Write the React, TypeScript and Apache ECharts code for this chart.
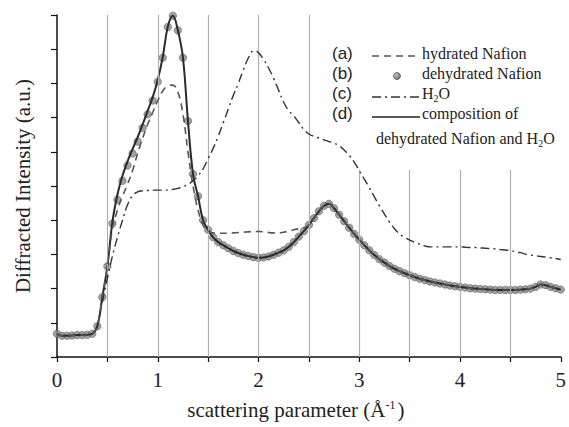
import React, { useEffect, useRef } from "react";
import * as echarts from "echarts";

// sampling grid of scattering parameter (Å^-1), every 0.05
const X: number[] = Array.from({ length: 101 }, (_, i) => Math.round(i * 5) / 100);

// (b) dehydrated Nafion (markers)
const dehydrated: number[] = [
  0.68, 0.62, 0.62, 0.63, 0.64, 0.64, 0.65, 0.68, 0.9, 1.75,
  2.65, 3.9, 4.6, 5.15, 5.6, 5.95, 6.3, 6.7, 7.1, 7.5,
  8.05, 8.75, 9.65, 9.98, 9.55, 8.75, 6.9, 5.35, 4.7, 4.0,
  3.72, 3.5, 3.36, 3.27, 3.18, 3.1, 3.04, 2.99, 2.95, 2.92,
  2.9, 2.91, 2.94, 2.99, 3.05, 3.12, 3.22, 3.36, 3.52, 3.68,
  3.86, 4.06, 4.26, 4.42, 4.48, 4.35, 4.16, 3.97, 3.78, 3.6,
  3.43, 3.27, 3.12, 2.98, 2.86, 2.76, 2.66, 2.58, 2.51, 2.45,
  2.39, 2.34, 2.29, 2.25, 2.21, 2.18, 2.15, 2.12, 2.09, 2.07,
  2.05, 2.03, 2.01, 2.0, 1.99, 1.98, 1.97, 1.96, 1.96, 1.96,
  1.96, 1.96, 1.97, 1.98, 2.0, 2.05, 2.12, 2.1, 2.05, 2.01,
  1.97,
];

// (d) composition of dehydrated Nafion and H2O (solid line)
const composition: number[] = [
  0.68, 0.62, 0.62, 0.63, 0.64, 0.64, 0.65, 0.68, 0.9, 1.75,
  2.65, 3.95, 4.75, 5.3, 5.72, 6.08, 6.42, 6.8, 7.2, 7.6,
  8.1, 8.78, 9.66, 9.98, 9.55, 8.75, 6.9, 5.35, 4.7, 4.0,
  3.72, 3.5, 3.36, 3.27, 3.18, 3.1, 3.04, 2.99, 2.95, 2.92,
  2.9, 2.91, 2.94, 2.99, 3.05, 3.12, 3.22, 3.36, 3.52, 3.68,
  3.86, 4.06, 4.26, 4.42, 4.48, 4.35, 4.16, 3.97, 3.78, 3.6,
  3.43, 3.27, 3.12, 2.98, 2.86, 2.76, 2.66, 2.58, 2.51, 2.45,
  2.39, 2.34, 2.29, 2.25, 2.21, 2.18, 2.15, 2.12, 2.09, 2.07,
  2.05, 2.03, 2.01, 2.0, 1.99, 1.98, 1.97, 1.96, 1.96, 1.96,
  1.96, 1.96, 1.97, 1.98, 2.0, 2.05, 2.12, 2.1, 2.05, 2.01,
  1.97,
];

// (a) hydrated Nafion (dashed)
const hydrated: number[] = [
  0.68, 0.62, 0.62, 0.63, 0.64, 0.64, 0.65, 0.68, 0.9, 1.75,
  2.65, 3.75, 4.3, 4.7, 5.05, 5.45, 5.95, 6.4, 6.8, 7.15,
  7.5, 7.78, 7.93, 7.95, 7.75, 7.1, 6.0, 5.0, 4.3, 3.85,
  3.68, 3.63, 3.62, 3.62, 3.62, 3.63, 3.64, 3.65, 3.66, 3.67,
  3.67, 3.66, 3.64, 3.63, 3.63, 3.65, 3.68, 3.72, 3.75, 3.78,
  3.86, 4.06, 4.26, 4.42, 4.48, 4.35, 4.16, 3.97, 3.78, 3.6,
  3.43, 3.27, 3.12, 2.98, 2.86, 2.76, 2.66, 2.58, 2.51, 2.45,
  2.39, 2.34, 2.29, 2.25, 2.21, 2.18, 2.15, 2.12, 2.09, 2.07,
  2.05, 2.03, 2.01, 2.0, 1.99, 1.98, 1.97, 1.96, 1.96, 1.96,
  1.96, 1.96, 1.97, 1.98, 2.0, 2.05, 2.12, 2.1, 2.05, 2.01,
  1.97,
];

// (c) H2O (dash-dot), starts at 0.45
const water: (number | null)[] = [
  null, null, null, null, null, null, null, null, null, 1.6,
  2.3, 2.95, 3.5, 4.0, 4.45, 4.72, 4.83, 4.86, 4.87, 4.88,
  4.88, 4.88, 4.88, 4.9, 4.93, 4.98, 5.05, 5.15, 5.3, 5.5,
  5.8, 6.1, 6.45, 6.85, 7.25, 7.65, 8.0, 8.4, 8.75, 8.95,
  8.9, 8.7, 8.45, 8.15, 7.8, 7.45, 7.2, 7.05, 6.85, 6.65,
  6.52, 6.45, 6.4, 6.35, 6.3, 6.25, 6.18, 6.05, 5.9, 5.7,
  5.45, 5.2, 4.95, 4.68, 4.42, 4.18, 3.95, 3.75, 3.6, 3.5,
  3.42, 3.35, 3.3, 3.25, 3.22, 3.22, 3.22, 3.22, 3.22, 3.22,
  3.22, 3.21, 3.2, 3.2, 3.19, 3.18, 3.17, 3.16, 3.14, 3.13,
  3.11, 3.08, 3.05, 3.01, 2.98, 2.96, 2.94, 2.92, 2.9, 2.88,
  2.85,
];

// vertical grid lines and the value where each one stops (legend area is clear)
const gridX: number[] = [0.5, 1, 1.5, 2, 2.5, 3, 3.5, 4, 4.5];
const gridTop: number[] = [10, 10, 10, 10, 10, 5.47, 5.47, 5.47, 5.47];

const xTickLabels: string[] = ["0", "1", "2", "3", "4", "5"];

const SERIF = "'Liberation Serif', 'DejaVu Serif', serif";
const SANS = "'Liberation Sans', Arial, sans-serif";

const pair = (ys: (number | null)[]) => X.map((x, i) => [x, ys[i]]);

export default function App() {
  const ref = useRef<HTMLDivElement>(null);

  useEffect(() => {
    if (!ref.current) return;
    const chart = echarts.init(ref.current, undefined, { renderer: "svg" });

    const legendX = 332;
    const symX0 = 372;
    const symX1 = 420;
    const textX = 422;
    const rows = [55, 75, 95, 115];

    chart.setOption({
      animation: false,
      backgroundColor: "#ffffff",
      grid: { left: 57, right: 4, top: 15, bottom: 70, containLabel: false },
      xAxis: {
        type: "value",
        min: 0,
        max: 5,
        interval: 0.5,
        axisLine: { show: true, lineStyle: { color: "#111", width: 1.5 } },
        axisTick: { show: true, inside: false, length: 5, lineStyle: { color: "#111", width: 1.2 } },
        splitLine: { show: false },
        axisLabel: {
          margin: 12,
          fontFamily: SERIF,
          fontSize: 21,
          color: "#222",
          formatter: (v: number) =>
            Number.isInteger(v) ? xTickLabels[v] ?? "" : "",
        },
        name: "scattering parameter (Å{sup|-1})",
        nameLocation: "middle",
        nameGap: 42,
        nameTextStyle: {
          fontFamily: SERIF,
          fontSize: 21,
          color: "#222",
          padding: [0, 26, 0, 0],
          rich: {
            sup: { fontFamily: SERIF, fontSize: 12, color: "#222", verticalAlign: "top", padding: [0, 2, 10, 0] },
          },
        },
      },
      yAxis: {
        type: "value",
        min: 0,
        max: 10,
        interval: 1,
        axisLine: { show: true, lineStyle: { color: "#111", width: 1.5 } },
        axisTick: { show: true, inside: false, length: 6, lineStyle: { color: "#111", width: 1.2 } },
        splitLine: { show: false },
        axisLabel: { show: false },
        name: "Diffracted Intensity (a.u.)",
        nameLocation: "middle",
        nameGap: 24,
        nameTextStyle: { fontFamily: SERIF, fontSize: 21, color: "#222" },
      },
      series: [
        {
          name: "grid",
          type: "line",
          data: [],
          z: 1,
          silent: true,
          markLine: {
            silent: true,
            symbol: ["none", "none"],
            label: { show: false },
            lineStyle: { color: "#b0b0b0", width: 1.2, type: "solid" },
            data: gridX.map((x, i) => [{ coord: [x, 0] }, { coord: [x, gridTop[i]] }]),
          },
        },
        {
          name: "dehydrated Nafion",
          type: "scatter",
          data: pair(dehydrated),
          symbol: "circle",
          symbolSize: 7.5,
          z: 3,
          itemStyle: { color: "#8a8a8a", borderColor: "#505050", borderWidth: 0.6 },
        },
        {
          name: "composition of dehydrated Nafion and H2O",
          type: "line",
          data: pair(composition),
          smooth: 0.4,
          showSymbol: false,
          z: 4,
          lineStyle: { color: "#2a2a2a", width: 2 },
        },
        {
          name: "hydrated Nafion",
          type: "line",
          data: pair(hydrated),
          smooth: 0.4,
          showSymbol: false,
          z: 5,
          lineStyle: { color: "#555", width: 1.6, type: [7, 5] },
        },
        {
          name: "H2O",
          type: "line",
          data: pair(water),
          smooth: 0.4,
          showSymbol: false,
          connectNulls: false,
          z: 5,
          lineStyle: { color: "#333", width: 1.4, type: [9, 4, 2, 4] },
        },
      ],
      graphic: [
        ...["(a)", "(b)", "(c)", "(d)"].map((t, i) => ({
          type: "text",
          left: legendX,
          top: rows[i] - 10,
          style: { text: t, fontFamily: SANS, fontSize: 17, fill: "#222" },
        })),
        {
          type: "line",
          shape: { x1: symX0, y1: rows[0] + 1, x2: symX1, y2: rows[0] + 1 },
          style: { stroke: "#555", lineWidth: 1.5, lineDash: [7, 5] },
        },
        {
          type: "circle",
          shape: { cx: 397, cy: rows[1] + 1, r: 3.6 },
          style: {
            fill: new echarts.graphic.RadialGradient(0.4, 0.4, 0.7, [
              { offset: 0, color: "#c8c8c8" },
              { offset: 1, color: "#5a5a5a" },
            ]),
            stroke: "#555",
            lineWidth: 0.6,
          },
        },
        {
          type: "line",
          shape: { x1: symX0, y1: rows[2] + 2, x2: symX1, y2: rows[2] + 2 },
          style: { stroke: "#333", lineWidth: 1.4, lineDash: [9, 4, 2, 4] },
        },
        {
          type: "line",
          shape: { x1: symX0, y1: rows[3] + 2, x2: symX1, y2: rows[3] + 2 },
          style: { stroke: "#222", lineWidth: 1.6 },
        },
        {
          type: "text",
          left: textX,
          top: rows[0] - 10,
          style: { text: "hydrated Nafion", fontFamily: SERIF, fontSize: 16, fill: "#222" },
        },
        {
          type: "text",
          left: textX,
          top: rows[1] - 10,
          style: { text: "dehydrated Nafion", fontFamily: SERIF, fontSize: 16, fill: "#222" },
        },
        {
          type: "text",
          left: textX,
          top: rows[2] - 10,
          style: {
            text: "{n|H}{s|2}{n|O}",
            rich: {
              n: { fontFamily: SERIF, fontSize: 16, fill: "#222", lineHeight: 20 },
              s: { fontFamily: SERIF, fontSize: 10, fill: "#222", verticalAlign: "bottom", lineHeight: 10 },
            },
          },
        },
        {
          type: "text",
          left: textX,
          top: rows[3] - 10,
          style: { text: "composition of", fontFamily: SERIF, fontSize: 16, fill: "#222" },
        },
        {
          type: "text",
          left: 376,
          top: 130,
          style: {
            text: "{n|dehydrated Nafion and H}{s|2}{n|O}",
            rich: {
              n: { fontFamily: SERIF, fontSize: 16, fill: "#222", lineHeight: 20 },
              s: { fontFamily: SERIF, fontSize: 10, fill: "#222", verticalAlign: "bottom", lineHeight: 10 },
            },
          },
        },
      ],
    });

    return () => chart.dispose();
  }, []);

  return (
    <div
      ref={ref}
      style={{ position: "absolute", left: 0, top: 0, width: 569, height: 427, background: "#fff" }}
    />
  );
}
